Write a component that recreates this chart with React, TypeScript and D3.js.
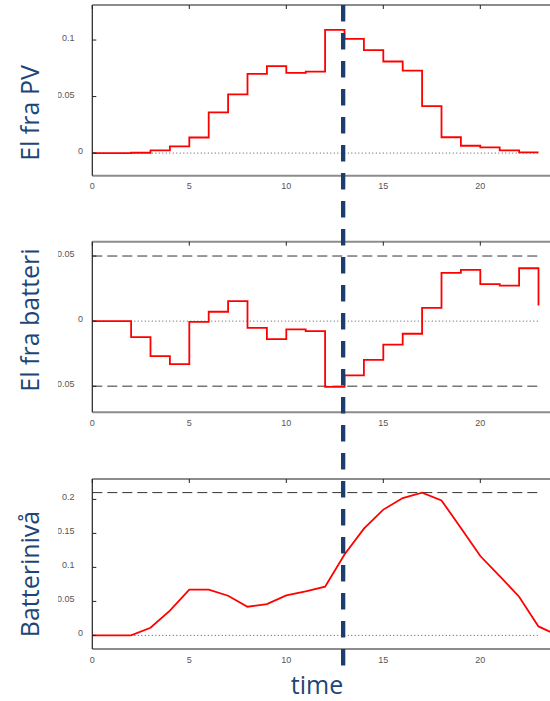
import React from "react";
import * as d3 from "d3";

// effekt fra solceller, hver time (step)
const pvPower = [0, 0, 0.0003, 0.0024, 0.006, 0.0138, 0.036, 0.052, 0.07, 0.077, 0.071, 0.072,
  0.109, 0.101, 0.091, 0.081, 0.073, 0.0415, 0.014, 0.0065, 0.005, 0.0024, 0.0006, 0.0006];
// effekt fra/til batteri
const batteryFlow = [0, 0, -0.0123, -0.0268, -0.033, -0.0005, 0.0072, 0.0153, -0.0051, -0.0138, -0.0064, -0.0077,
  -0.0504, -0.0417, -0.0297, -0.0181, -0.0097, 0.0102, 0.037, 0.0394, 0.0284, 0.0273, 0.0406, 0.012];
// batterinivå
const batteryLevel = [0, 0, 0, 0.0113, 0.0363, 0.0672, 0.0672, 0.0583, 0.0422, 0.0461, 0.0588, 0.0647, 0.0716,
  0.119, 0.157, 0.185, 0.202, 0.21, 0.1985, 0.158, 0.1167, 0.0873, 0.0569, 0.0132, 0];

const xTicks = [0, 5, 10, 15, 20];
const pvTicks = [0, 0.05, 0.1];
const flowTicks = [-0.05, 0, 0.05];
const levelTicks = [0, 0.05, 0.1, 0.15, 0.2];
const flowLimits = [0.05, -0.05];
const batteryCapacity = [0.21];
const refLineEnd = 23;
const nowHour = 12.93;

const titleColor = "#1d4677";
const x = d3.scaleLinear().domain([0, 24]).range([92.3, 557.9]);

type Panel = {
  title: string;
  titleY: number;
  values: number[];
  step: boolean;
  domain: [number, number];
  range: [number, number];
  ticks: number[];
  dashed: number[];
};

const panels: Panel[] = [
  { title: "El fra PV", titleY: 113, values: pvPower, step: true, domain: [-0.02, 0.131], range: [175.7, 5], ticks: pvTicks, dashed: [] },
  { title: "El fra batteri", titleY: 320, values: batteryFlow, step: true, domain: [-0.07, 0.061], range: [412.3, 241.7], ticks: flowTicks, dashed: flowLimits },
  { title: "Batterinivå", titleY: 574, values: batteryLevel, step: false, domain: [-0.02, 0.23], range: [649, 479], ticks: levelTicks, dashed: batteryCapacity },
];

const fmt = (d: number) => String(d);

const PanelView = ({ p }: { p: Panel }) => {
  const y = d3.scaleLinear().domain(p.domain).range(p.range);
  const line = d3.line<number>()
    .x((d, i) => x(i))
    .y((d) => y(d))
    .curve(p.step ? d3.curveStepAfter : d3.curveLinear);
  const [bottom, top] = p.range;
  return (
    <g>
      {/* nulllinje */}
      <line x1={x(0)} x2={x(refLineEnd)} y1={y(0)} y2={y(0)} stroke="#555" strokeWidth={1} strokeDasharray="1,2.5" />
      {p.dashed.map((v, i) => (
        <line key={i} x1={x(0)} x2={x(refLineEnd)} y1={y(v)} y2={y(v)}
          stroke={v < 0 ? "#777" : "#333"} strokeWidth={v < 0 ? 1.5 : 1} strokeDasharray="10,5" />
      ))}
      <path d={line(p.values) || ""} fill="none" stroke="#ff0000" strokeWidth={1.8} />
      {/* ramme */}
      <line x1={x(0)} x2={550} y1={top} y2={top} stroke="#8c8c8c" strokeWidth={2} />
      <line x1={x(0)} x2={550} y1={bottom} y2={bottom} stroke="#8c8c8c" strokeWidth={2} />
      <line x1={x(0)} x2={x(0)} y1={top} y2={bottom} stroke="#222" strokeWidth={1.2} />
      {xTicks.map((t) => (
        <g key={t}>
          <line x1={x(t)} x2={x(t)} y1={top} y2={top + 4} stroke="#222" strokeWidth={1} />
          <text x={x(t)} y={bottom + 13.5} textAnchor="middle" fontSize={9} fill="#555"
            fontFamily="Liberation Sans, Arial, sans-serif">{t}</text>
        </g>
      ))}
      <g clipPath="url(#labelClip)">
        {p.ticks.map((t) => (
          <g key={t}>
            <line x1={x(0)} x2={x(0) + 4} y1={y(t)} y2={y(t)} stroke="#222" strokeWidth={1} />
            <text x={t === 0 ? 83 : 74.5} y={y(t) + 1} textAnchor="end" fontSize={9} fill="#555"
              fontFamily="Liberation Sans, Arial, sans-serif">{fmt(t)}</text>
          </g>
        ))}
      </g>
      <text transform={`translate(39,${p.titleY}) rotate(-90)`} textAnchor="middle" fontSize={25}
        fill={titleColor} fontFamily="Open Sans, sans-serif">{p.title}</text>
    </g>
  );
};

const App = () => {
  return (
    <svg width={550} height={701} style={{ position: "absolute", left: 0, top: 0, background: "#fff" }}>
      <defs>
        <clipPath id="labelClip">
          <rect x={58} y={0} width={492} height={701} />
        </clipPath>
      </defs>
      {panels.map((p, i) => <PanelView key={i} p={p} />)}
      <line x1={x(nowHour)} x2={x(nowHour)} y1={5} y2={666} stroke="#1c3e6c" strokeWidth={4.3} strokeDasharray="16.5,11.5" />
      <text x={317} y={694} textAnchor="middle" fontSize={25} fill={titleColor}
        fontFamily="Open Sans, sans-serif">time</text>
    </svg>
  );
};

export default App;
